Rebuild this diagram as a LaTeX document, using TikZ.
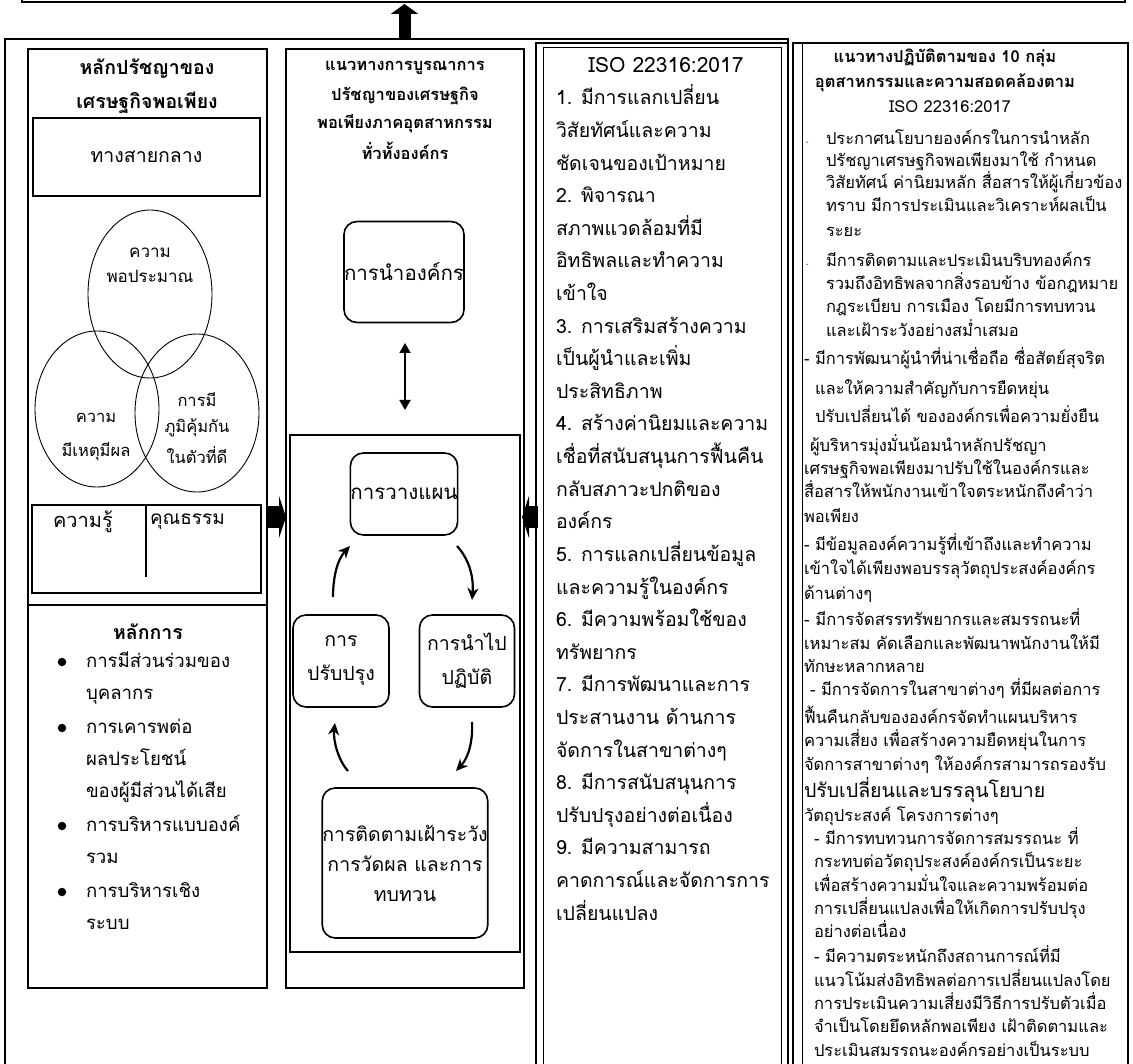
\documentclass[tikz,border=0pt]{standalone}
\usepackage{fontspec}
\setmainfont[Script=Thai]{Loma}
\usetikzlibrary{arrows.meta,shapes.geometric}
\tikzset{
  boxline/.style={draw, line width=1.6pt},
  thinline/.style={draw, line width=0.9pt},
  rbox/.style={draw, line width=1.6pt, rounded corners=13pt, inner sep=0pt, align=center},
  txt/.style={inner sep=0pt, outer sep=0pt},
  fatarrow/.style={line width=#1, -{Triangle[width=27pt,length=10pt]}},
  sidearrow/.style={line width=22pt, -{Triangle[width=42pt,length=7pt]}},
  cyc/.style={line width=2.2pt, -{Stealth[length=12pt,width=11pt]}},
  isofont/.style={font=\fontsize{19.5}{19.5}\selectfont},
  rfont/.style={font=\fontsize{16.5}{16.5}\selectfont},
}
\begin{document}
\begin{tikzpicture}[x=1pt,y=-1pt]
\useasboundingbox (0,0) rectangle (1133,1064);
\fill[white] (0,0) rectangle (1133,1064);
% top box (cut off)
\draw[boxline] (22,-20) rectangle (1125,2);
\coordinate (ua1) at (404.5,38);
\coordinate (ua2) at (404.5,4);
\draw[fatarrow=12pt] (ua1) -- (ua2);
% outer frame
\draw[line width=2pt] (5,39) rectangle (788,1090);
% ---------------- column 1
\draw[boxline] (28,49) rectangle (267,988);
\draw[boxline] (28,605) -- (267,605);
\node[txt,font=\bfseries\fontsize{19.5}{19.5}\selectfont] (t1a) at (147,69) {หลักปรัชญาของ};
\node[txt,font=\bfseries\fontsize{19.5}{19.5}\selectfont] (t1b) at (147,103) {เศรษฐกิจพอเพียง};
\node[boxline, minimum width=227pt, minimum height=78pt, inner sep=0] (mid) at (146.5,157) {};
\node[txt,font=\fontsize{19.5}{19.5}\selectfont] at (mid.center) {ทางสายกลาง};
\node[ellipse, thinline, inner sep=0, minimum width=124pt, minimum height=168pt] (e1) at (150,294) {};
\node[ellipse, thinline, inner sep=0, minimum width=124pt, minimum height=156pt] (e2) at (97,409) {};
\node[ellipse, thinline, inner sep=0, minimum width=124pt, minimum height=158pt] (e3) at (197,413) {};
\node[txt,font=\fontsize{17}{17}\selectfont] (e1a) at (150,253) {ความ};
\node[txt,font=\fontsize{17}{17}\selectfont] (e1b) at (150,276) {พอประมาณ};
\node[txt,font=\fontsize{16.5}{16.5}\selectfont] (e2a) at (96,418) {ความ};
\node[txt,font=\fontsize{16.5}{16.5}\selectfont] (e2b) at (96,452) {มีเหตุมีผล};
\node[txt,font=\fontsize{16.5}{16.5}\selectfont] (e3a) at (197,400) {การมี};
\node[txt,font=\fontsize{16.5}{16.5}\selectfont] (e3b) at (197,428) {ภูมิคุ้มกัน};
\node[txt,font=\fontsize{16.5}{16.5}\selectfont] (e3c) at (197,455) {ในตัวที่ดี};
\node[boxline, minimum width=229pt, minimum height=88pt, inner sep=0] (kb) at (146.5,549) {};
\coordinate (kd1) at (146,505);
\coordinate (kd2) at (146,577);
\draw[line width=1.6pt] (kd1) -- (kd2);
\node[txt,font=\fontsize{20}{20}\selectfont,anchor=west] (k1) at (53,522) {ความรู้};
\node[txt,font=\fontsize{19}{19}\selectfont,anchor=west] (k2) at (150,522) {คุณธรรม};
\node[txt,font=\bfseries\fontsize{19.5}{19.5}\selectfont] (hk) at (148,632) {หลักการ};
\foreach \yy/\t [count=\i] in {662/การมีส่วนร่วมของ,694/บุคลากร,728/การเคารพต่อ,760/ผลประโยชน์,792/ของผู้มีส่วนได้เสีย,826/การบริหารแบบองค์,858/รวม,892/การบริหารเชิง,924/ระบบ}
  \node[txt,font=\fontsize{18.6}{18.6}\selectfont,anchor=base west] (p\i) at (86,\yy+5) {\t};
\foreach \yy [count=\i] in {662,728,826,892}
  \node[circle, fill=black, inner sep=0, minimum size=8.5pt] (bu\i) at (62,\yy) {};
% ---------------- column 2
\draw[boxline] (286,49) rectangle (524,988);
\foreach \yy/\t [count=\i] in {68/แนวทางการบูรณาการ,96/ปรัชญาของเศรษฐกิจ,124/พอเพียงภาคอุตสาหกรรม,151/ทั่วทั้งองค์กร}
  \node[txt,font=\bfseries\fontsize{16.5}{16.5}\selectfont] (c2t\i) at (405,\yy) {\t};
\node[rbox, minimum width=120pt, minimum height=101pt, font=\fontsize{20.5}{20.5}\selectfont] (lead) at (404,272) {การนำองค์กร};
\coordinate (da1) at (405,343);
\coordinate (da2) at (405,410);
\draw[line width=1.8pt, {Triangle[length=10pt,width=11pt]}-{Triangle[length=10pt,width=11pt]}] (da1) -- (da2);
\draw[boxline] (290,435) rectangle (520,952);
\node[rbox, minimum width=102pt, minimum height=82pt, font=\fontsize{20.5}{20.5}\selectfont] (plan) at (404,494) {การวางแผน};
\node[rbox, minimum width=95pt, minimum height=92pt, font=\fontsize{19.5}{34}\selectfont] (impl) at (467,661) {การนำไป\\ปฏิบัติ};
\node[rbox, minimum width=96pt, minimum height=92pt, font=\fontsize{19.5}{34}\selectfont] (impr) at (341,661) {การ\\ปรับปรุง};
\node[rbox, minimum width=148pt, minimum height=150pt, font=\fontsize{19.5}{30}\selectfont] (mon) at (405,863) {การติดตามเฝ้าระวัง\\การวัดผล และการ\\ทบทวน};
\coordinate (c1s) at (457,546); \coordinate (c1e) at (472,600);
\coordinate (c2s) at (472,722); \coordinate (c2e) at (456,771);
\coordinate (c3s) at (348,771); \coordinate (c3e) at (335,723);
\coordinate (c4s) at (333,597); \coordinate (c4e) at (350,546);
\draw[cyc] (c1s) .. controls (468,558) and (474,575) .. (c1e);
\draw[cyc] (c2s) .. controls (473,740) and (469,757) .. (c2e);
\draw[cyc] (c3s) .. controls (338,760) and (333,740) .. (c3e);
\draw[cyc] (c4s) .. controls (333,578) and (337,560) .. (c4e);
% side arrows
\coordinate (la1) at (266,517); \coordinate (la2) at (286,517);
\draw[sidearrow] (la1) -- (la2);
\coordinate (ra1) at (538,517); \coordinate (ra2) at (522,517);
\draw[sidearrow] (ra1) -- (ra2);
% ---------------- column 3 (ISO)
\draw[boxline] (536,43) rectangle (788,1090);
\draw[thinline] (543,47) rectangle (781,1090);
\node[txt,font=\fontsize{21}{21}\selectfont] (isot) at (666,65) {ISO 22316:2017};
\foreach \t [count=\i] in {1. มีการแลกเปลี่ยน,วิสัยทัศน์และความ,ชัดเจนของเป้าหมาย,2. พิจารณา,สภาพแวดล้อมที่มี,อิทธิพลและทำความ,เข้าใจ,3. การเสริมสร้างความ,เป็นผู้นำและเพิ่ม,ประสิทธิภาพ,4. สร้างค่านิยมและความ,เชื่อที่สนับสนุนการฟื้นคืน,กลับสภาวะปกติของ,องค์กร,5. การแลกเปลี่ยนข้อมูล,และความรู้ในองค์กร,6. มีความพร้อมใช้ของ,ทรัพยากร,7. มีการพัฒนาและการ,ประสานงาน ด้านการ,จัดการในสาขาต่างๆ,8. มีการสนับสนุนการ,ปรับปรุงอย่างต่อเนื่อง,9. มีความสามารถ,คาดการณ์และจัดการการ,เปลี่ยนแปลง}
  \node[txt,isofont,anchor=base west] (iso\i) at (556,{100+32.6*(\i-1)+5}) {\t};
% ---------------- column 4
\draw[boxline] (793,43) rectangle (1128,1090);
\draw[thinline] (802,43) -- (802,1090);
\node[txt,font=\bfseries\fontsize{16.5}{16.5}\selectfont] (c4t1) at (945,58) {แนวทางปฏิบัติตามของ 10 กลุ่ม};
\node[txt,font=\bfseries\fontsize{16.5}{16.5}\selectfont] (c4t2) at (945,83) {อุตสาหกรรมและความสอดคล้องตาม};
\node[txt,font=\fontsize{16.5}{16.5}\selectfont] (c4t3) at (950,107) {ISO 22316:2017};
\foreach \xx/\yy/\t [count=\i] in {
806/140/{\makebox[20pt][l]{\scriptsize -}ประกาศนโยบายองค์กรในการนำหลัก},
826/162/ปรัชญาเศรษฐกิจพอเพียงมาใช้ กำหนด,
826/184/วิสัยทัศน์ ค่านิยมหลัก สื่อสารให้ผู้เกี่ยวข้อง,
826/207/ทราบ มีการประเมินและวิเคราะห์ผลเป็น,
826/232/ระยะ,
806/262/{\makebox[20pt][l]{\scriptsize -}มีการติดตามและประเมินบริบทองค์กร},
826/285/รวมถึงอิทธิพลจากสิ่งรอบข้าง ข้อกฎหมาย,
826/308/กฎระเบียบ การเมือง โดยมีการทบทวน,
826/332/และเฝ้าระวังอย่างสม่ำเสมอ,
804/360/- มีการพัฒนาผู้นำที่น่าเชื่อถือ ซื่อสัตย์สุจริต,
815/390/และให้ความสำคัญกับการยืดหยุ่น,
815/418/ปรับเปลี่ยนได้ ขององค์กรเพื่อความยั่งยืน,
810/447/ผู้บริหารมุ่งมั่นน้อมนำหลักปรัชญา,
804/470/เศรษฐกิจพอเพียงมาปรับใช้ในองค์กรและ,
804/493/สื่อสารให้พนักงานเข้าใจตระหนักถึงคำว่า,
804/518/พอเพียง,
804/546/- มีข้อมูลองค์ความรู้ที่เข้าถึงและทำความ,
804/570/เข้าใจได้เพียงพอบรรลุวัตถุประสงค์องค์กร,
804/595/ด้านต่างๆ,
804/621/{-\hspace{6pt}มีการจัดสรรทรัพยากรและสมรรถนะที่},
804/645/เหมาะสม คัดเลือกและพัฒนาพนักงานให้มี,
804/668/ทักษะหลากหลาย,
810/691/- มีการจัดการในสาขาต่างๆ ที่มีผลต่อการ,
804/719/ฟื้นคืนกลับขององค์กรจัดทำแผนบริหาร,
804/742/ความเสี่ยง เพื่อสร้างความยืดหยุ่นในการ,
804/766/จัดการสาขาต่างๆ ให้องค์กรสามารถรองรับ,
804/793/{\fontsize{19.5}{19.5}\selectfont ปรับเปลี่ยนและบรรลุนโยบาย},
804/817/วัตถุประสงค์ โครงการต่างๆ,
814/840/- มีการทบทวนการจัดการสมรรถนะ ที่,
814/863/กระทบต่อวัตถุประสงค์องค์กรเป็นระยะ,
814/887/เพื่อสร้างความมั่นใจและความพร้อมต่อ,
814/910/การเปลี่ยนแปลงเพื่อให้เกิดการปรับปรุง,
814/933/อย่างต่อเนื่อง,
814/958/- มีความตระหนักถึงสถานการณ์ที่มี,
814/982/แนวโน้มส่งอิทธิพลต่อการเปลี่ยนแปลงโดย,
814/1005/การประเมินความเสี่ยงมีวิธีการปรับตัวเมื่อ,
814/1028/จำเป็นโดยยึดหลักพอเพียง เฝ้าติดตามและ,
814/1052/ประเมินสมรรถนะองค์กรอย่างเป็นระบบ}
  \node[txt,rfont,anchor=base west] (r\i) at (\xx,\yy+4.5) {\t};
\end{tikzpicture}
\end{document}
